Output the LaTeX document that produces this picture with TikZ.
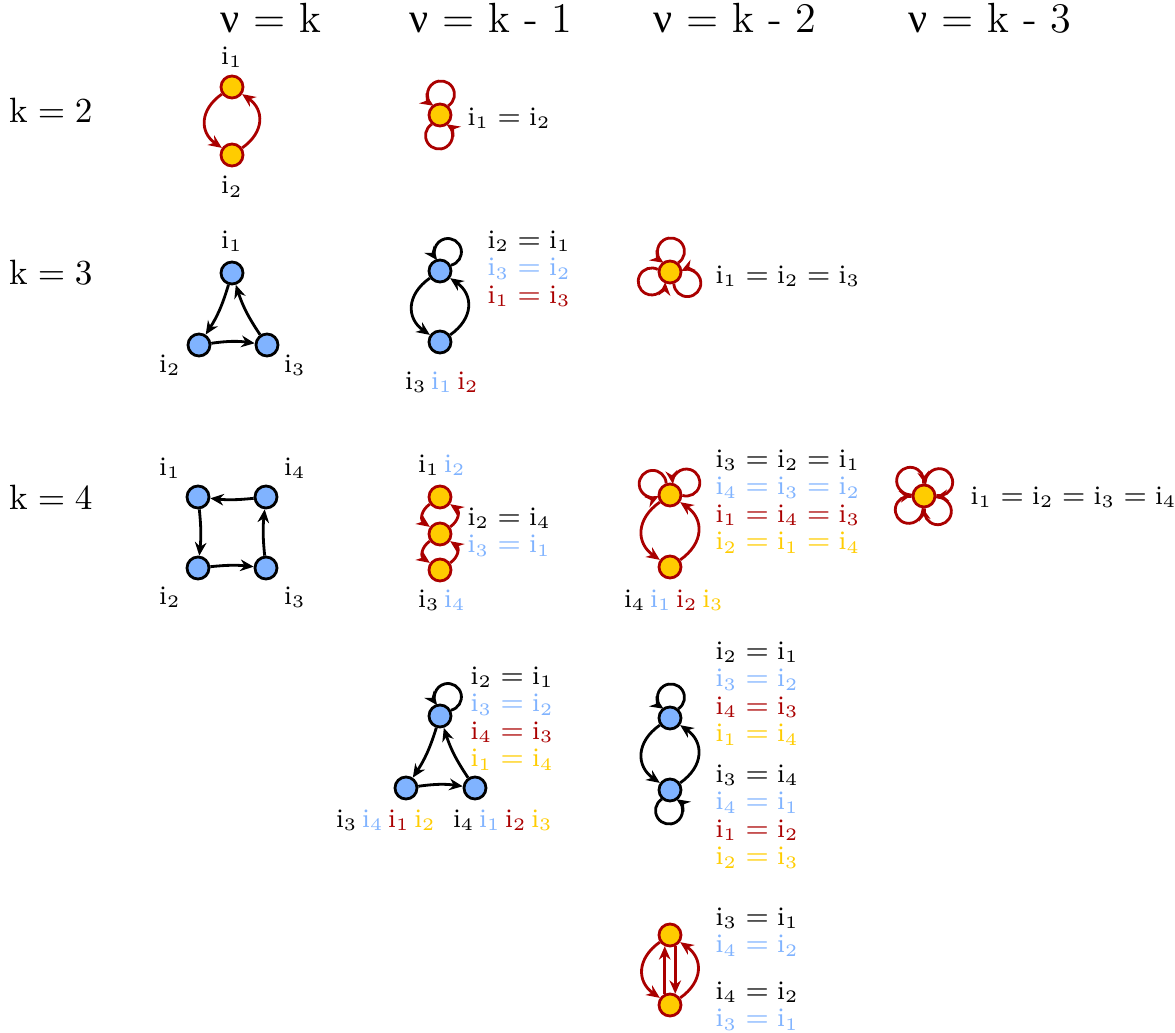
\documentclass[tikz,border=0pt]{standalone}
\usepackage{fontspec}
\usepackage{amsmath}
\usetikzlibrary{arrows.meta,positioning}
\newfontfamily\nufont{Liberation Serif}
\definecolor{nodeBlue}{HTML}{80B3FF}
\definecolor{nodeYellow}{HTML}{FFCC00}
\definecolor{darkRed}{HTML}{AA0000}
\newcommand{\ix}[1]{\mathrm{i}_{#1}}
\newcommand{\lblfont}{\fontsize{7.6}{7.8}\selectfont}
\newcommand{\cB}{\color{nodeBlue}}
\newcommand{\cR}{\color{darkRed}}
\newcommand{\cY}{\color{nodeYellow}}

\begin{document}
\begin{tikzpicture}[
    x=0.01cm, y=0.01cm,
    bnode/.style={circle, draw=black, fill=nodeBlue, line width=0.8pt, minimum size=0.22cm, inner sep=0pt},
    ynode/.style={circle, draw=darkRed, fill=nodeYellow, line width=0.8pt, minimum size=0.22cm, inner sep=0pt},
    bedge/.style={-{Stealth[length=3.8pt,width=3.3pt]}, line width=0.8pt, black},
    redge/.style={bedge, darkRed},
    arc/.style={bend right=55, looseness=1.3},
    lbl/.style={font=\lblfont, inner sep=0pt},
    eqs/.style={lbl, align=left, anchor=north west},
    head/.style={font=\large}
]
    \useasboundingbox (0,0) rectangle (1175,-1033);

    % column and row titles
    \node[head] (h0) at (271,-18) {{\nufont ν} = k};
    \node[head] (h1) at (491,-18) {{\nufont ν} = k - 1};
    \node[head] (h2) at (735,-18) {{\nufont ν} = k - 2};
    \node[head] (h3) at (990,-18) {{\nufont ν} = k - 3};
    \node (r2) at (51,-110) {$\mathrm{k}=2$};
    \node (r3) at (51,-272) {$\mathrm{k}=3$};
    \node (r4) at (51,-497) {$\mathrm{k}=4$};

    % k = 2
    \node[ynode] (a1) at (232,-87) {};
    \node[ynode] (a2) at (232,-155) {};
    \node[lbl, above=0.06cm of a1] (a1l) {$\ix1$};
    \node[lbl, below=0.08cm of a2] (a2l) {$\ix2$};
    \draw[redge] (a1) to[arc] (a2);
    \draw[redge] (a2) to[arc] (a1);

    \node[ynode] (b1) at (440,-115) {};
    \draw[redge] (b1.48) arc[start angle=-57, end angle=237, radius=0.135cm];
    \draw[redge] (b1.228) arc[start angle=123, end angle=417, radius=0.135cm];
    \node[lbl, anchor=west] (b1e) at (467,-118) {$\ix1=\ix2$};

    % k = 3
    \node[bnode] (c1) at (232,-273) {};
    \node[bnode] (c2) at (199,-345) {};
    \node[bnode] (c3) at (267,-345) {};
    \node[lbl, above=0.08cm of c1] (c1l) {$\ix1$};
    \node[lbl] (c2l) at (170,-365) {$\ix2$};
    \node[lbl] (c3l) at (295,-365) {$\ix3$};
    \draw[bedge] (c1) to[bend left=8] (c2);
    \draw[bedge] (c2) to[bend left=8] (c3);
    \draw[bedge] (c3) to[bend left=8] (c1);

    \node[bnode] (d1) at (440,-271) {};
    \node[bnode] (d2) at (440,-342) {};
    \draw[bedge] (d1.28) arc[start angle=-77, end angle=217, radius=0.135cm];
    \draw[bedge] (d1) to[arc] (d2);
    \draw[bedge] (d2) to[arc] (d1);
    \node[eqs] (d1e) at (487,-230) {$\ix2=\ix1$\\\cB$\ix3=\ix2$\\\cR$\ix1=\ix3$};
    \node[lbl] (d2l) at (442,-382) {$\ix3$\,{\cB$\ix1$}\,{\cR$\ix2$}};

    \node[ynode] (e1) at (670,-272) {};
    \draw[redge] (e1.48) arc[start angle=-57, end angle=237, radius=0.135cm];
    \draw[redge] (e1.-72) arc[start angle=-177, end angle=117, radius=0.135cm];
    \draw[redge] (e1.168) arc[start angle=63, end angle=357, radius=0.135cm];
    \node[lbl, anchor=west] (e1e) at (715,-276) {$\ix1=\ix2=\ix3$};

    % k = 4
    \node[bnode] (f1) at (198,-497) {};
    \node[bnode] (f4) at (266,-497) {};
    \node[bnode] (f2) at (198,-568) {};
    \node[bnode] (f3) at (266,-568) {};
    \node[lbl] (f1l) at (170,-468) {$\ix1$};
    \node[lbl] (f4l) at (295,-468) {$\ix4$};
    \node[lbl] (f2l) at (170,-597) {$\ix2$};
    \node[lbl] (f3l) at (295,-597) {$\ix3$};
    \draw[bedge] (f4) to[bend left=6] (f1);
    \draw[bedge] (f1) to[bend left=6] (f2);
    \draw[bedge] (f2) to[bend left=6] (f3);
    \draw[bedge] (f3) to[bend left=6] (f4);

    \node[ynode] (g1) at (440,-497) {};
    \node[ynode] (g2) at (440,-534) {};
    \node[ynode] (g3) at (440,-570) {};
    \draw[redge] (g1) to[arc] (g2);
    \draw[redge] (g2) to[arc] (g3);
    \draw[redge] (g3) to[arc] (g2);
    \draw[redge] (g2) to[arc] (g1);
    \node[lbl] (g1l) at (442,-465) {$\ix1$\,{\cB$\ix2$}};
    \node[eqs] (g2e) at (467,-507) {$\ix2=\ix4$\\\cB$\ix3=\ix1$};
    \node[lbl] (g3l) at (442,-600) {$\ix3$\,{\cB$\ix4$}};

    \node[ynode] (k1) at (670,-495) {};
    \node[ynode] (k2) at (670,-567) {};
    \draw[redge] (k1.108) arc[start angle=3, end angle=297, radius=0.135cm];
    \draw[redge] (k1.-2) arc[start angle=-107, end angle=187, radius=0.135cm];
    \draw[redge] (k1) to[arc] (k2);
    \draw[redge] (k2) to[arc] (k1);
    \node[eqs] (k1e) at (715,-449) {$\ix3=\ix2=\ix1$\\\cB$\ix4=\ix3=\ix2$\\\cR$\ix1=\ix4=\ix3$\\\cY$\ix2=\ix1=\ix4$};
    \node[lbl] (k2l) at (674,-600) {$\ix4$\,{\cB$\ix1$}\,{\cR$\ix2$}\,{\cY$\ix3$}};

    \node[ynode] (j1) at (924,-496) {};
    \draw[redge] (j1.3) arc[start angle=-102, end angle=192, radius=0.135cm];
    \draw[redge] (j1.93) arc[start angle=-12, end angle=282, radius=0.135cm];
    \draw[redge] (j1.183) arc[start angle=78, end angle=372, radius=0.135cm];
    \draw[redge] (j1.273) arc[start angle=168, end angle=462, radius=0.135cm];
    \node[lbl, anchor=west] (j1e) at (970,-497) {$\ix1=\ix2=\ix3=\ix4$};

    % k = 4, second pattern
    \node[bnode] (m1) at (440,-716) {};
    \node[bnode] (m2) at (406,-788) {};
    \node[bnode] (m3) at (475,-788) {};
    \draw[bedge] (m1.28) arc[start angle=-77, end angle=217, radius=0.135cm];
    \draw[bedge] (m1) to[bend left=8] (m2);
    \draw[bedge] (m2) to[bend left=8] (m3);
    \draw[bedge] (m3) to[bend left=8] (m1);
    \node[eqs] (m1e) at (470,-666) {$\ix2=\ix1$\\\cB$\ix3=\ix2$\\\cR$\ix4=\ix3$\\\cY$\ix1=\ix4$};
    \node[lbl] (m2l) at (386,-820) {$\ix3$\,{\cB$\ix4$}\,{\cR$\ix1$}\,{\cY$\ix2$}};
    \node[lbl] (m3l) at (503,-820) {$\ix4$\,{\cB$\ix1$}\,{\cR$\ix2$}\,{\cY$\ix3$}};

    \node[bnode] (n1) at (670,-718) {};
    \node[bnode] (n2) at (670,-790) {};
    \draw[bedge] (n1.48) arc[start angle=-57, end angle=237, radius=0.135cm];
    \draw[bedge] (n2.228) arc[start angle=123, end angle=417, radius=0.135cm];
    \draw[bedge] (n1) to[arc] (n2);
    \draw[bedge] (n2) to[arc] (n1);
    \node[eqs] (n1e) at (715,-641) {$\ix2=\ix1$\\\cB$\ix3=\ix2$\\\cR$\ix4=\ix3$\\\cY$\ix1=\ix4$};
    \node[eqs] (n2e) at (715,-764) {$\ix3=\ix4$\\\cB$\ix4=\ix1$\\\cR$\ix1=\ix2$\\\cY$\ix2=\ix3$};

    % k = 4, third pattern
    \node[ynode] (p1) at (670,-935) {};
    \node[ynode] (p2) at (670,-1005) {};
    \draw[redge] (p1) to[arc] (p2);
    \draw[redge] (p2) to[arc] (p1);
    \draw[redge] (p2.115) -- (p1.245);
    \draw[redge] (p1.-65) -- (p2.65);
    \node[eqs] (p1e) at (715,-907) {$\ix3=\ix1$\\\cB$\ix4=\ix2$};
    \node[eqs] (p2e) at (715,-981) {$\ix4=\ix2$\\\cB$\ix3=\ix1$};
\end{tikzpicture}
\end{document}
